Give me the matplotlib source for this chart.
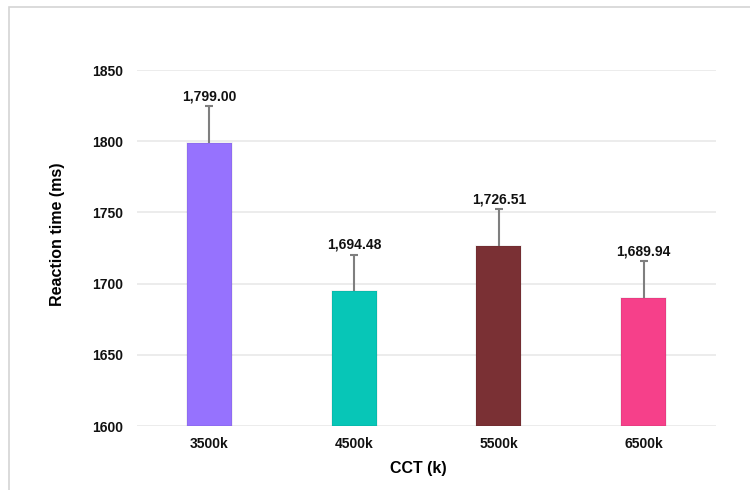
import matplotlib
matplotlib.use("Agg")
import matplotlib.pyplot as plt
from matplotlib.patches import Rectangle

categories = ["3500k", "4500k", "5500k", "6500k"]
values = [1799.00, 1694.48, 1726.51, 1689.94]
errors = [25.6, 25.9, 25.8, 25.6]
colors = ["#9672FE", "#07C6B7", "#7A3034", "#F6408A"]
yticks = [1600, 1650, 1700, 1750, 1800, 1850]

plt.rcParams['font.family'] = ['Liberation Sans', 'DejaVu Sans']

fig = plt.figure(figsize=(7.5, 4.9), dpi=100)
ax = fig.add_axes([0.1827, 0.1306, 0.772, 0.7265])

# outer frame
fig.patches.append(Rectangle((0.012, -0.1), 1.2, 0.9857 + 0.1, transform=fig.transFigure,
                             fill=False, edgecolor="#d4d4d4", linewidth=1.2))

x = list(range(len(categories)))
ax.bar(x, [v - 1600 for v in values], bottom=1600, width=0.31, color=colors, zorder=3,
       edgecolor=(0, 0, 0, 0.06), linewidth=1.2)
eb = ax.errorbar(x, values, yerr=[[0] * len(errors), errors], fmt="none", ecolor="#7f7f7f",
                 elinewidth=1.5, capsize=2.8, capthick=1.5, zorder=4)
eb[1][0].set_visible(False)
for xi, v, e in zip(x, values, errors):
    ax.annotate(f"{v:,.2f}", (xi, v + e), xytext=(0, 2), textcoords="offset points",
                ha="center", va="bottom", fontsize=10, fontweight="bold", color="#111111")

ax.set_xlim(-0.5, 3.5)
ax.set_ylim(1600, 1850)
ax.set_yticks(yticks)
ax.set_xticks(x)
ax.set_xticklabels(categories)
ax.grid(axis="y", color="#e9e9e9", linewidth=1.2, zorder=0)
ax.set_axisbelow(True)
for s in ax.spines.values():
    s.set_visible(False)
ax.tick_params(axis="y", length=0, labelsize=10, pad=10)
ax.tick_params(axis="x", length=0, labelsize=10, pad=8)
for lab in ax.get_xticklabels() + ax.get_yticklabels():
    lab.set_fontweight("bold")
    lab.set_color("#111111")
ax.set_ylabel("Reaction time (ms)", fontsize=11.5, fontweight="bold", va="center")
ax.yaxis.set_label_coords(-0.138, 0.539)
ax.set_xlabel("CCT (k)", fontsize=11.5, fontweight="bold", va="center")
ax.xaxis.set_label_coords(0.485, -0.118)

fig.savefig("out.png", dpi=100)
